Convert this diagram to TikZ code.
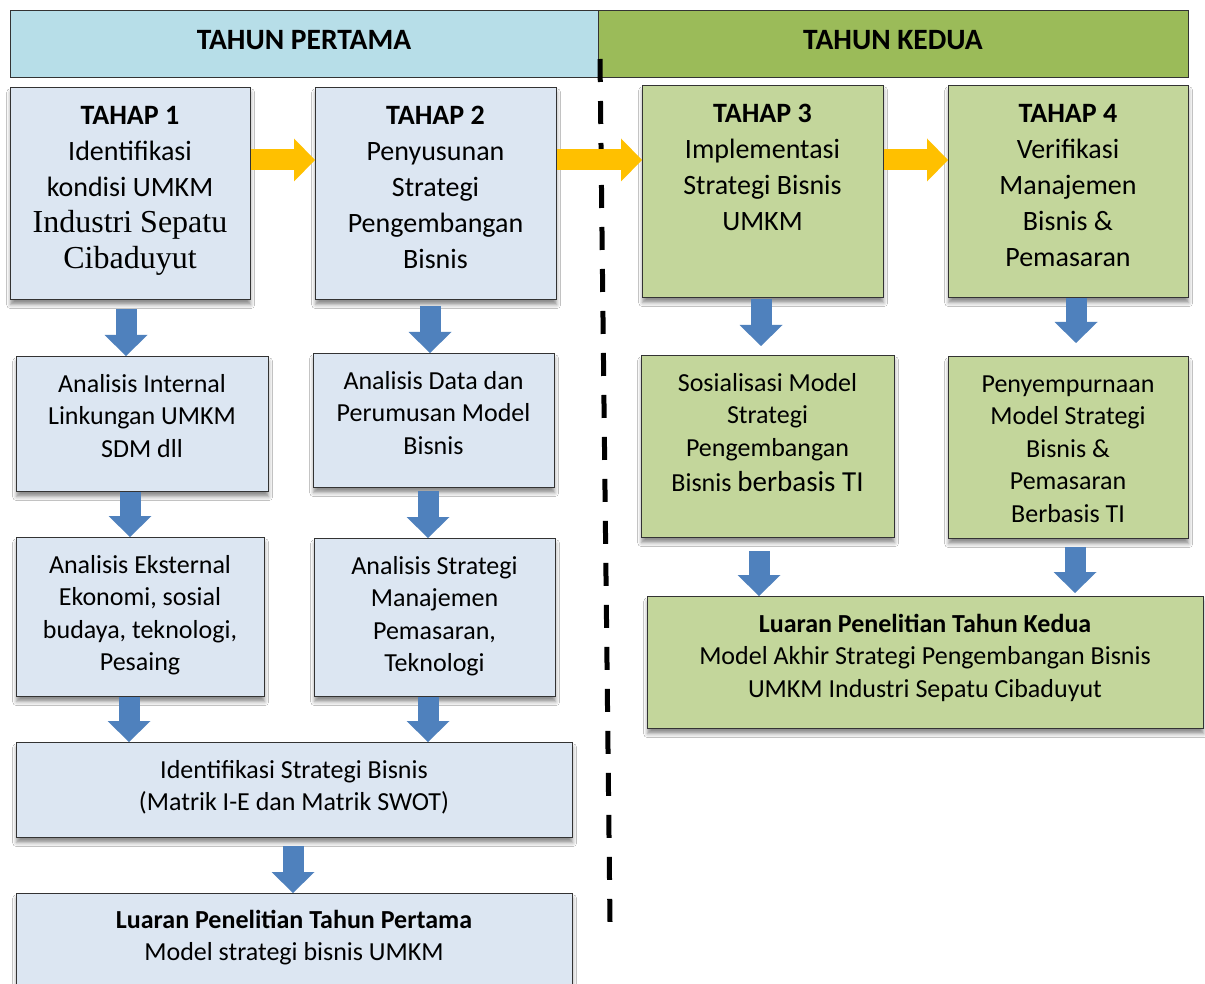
\documentclass[tikz,border=0pt]{standalone}
\usepackage{fontspec}
\setmainfont{Carlito}
\newfontfamily\tnr{Liberation Serif}
\usetikzlibrary{arrows.meta,shadows.blur}
\definecolor{hdrblue}{HTML}{B7DEE8}
\definecolor{hdrgreen}{HTML}{9BBB59}
\definecolor{boxblue}{HTML}{DCE6F2}
\definecolor{boxgreen}{HTML}{C3D69B}
\definecolor{orangec}{HTML}{FFC000}
\definecolor{arrowblue}{HTML}{4F81BD}
\begin{document}
\begin{tikzpicture}[x=1pt,y=-1pt,
  box/.style={draw=black!80, line width=1.3pt, rectangle, inner sep=0pt, anchor=north west,
    blur shadow={shadow xshift=0pt, shadow yshift=-5pt, shadow blur radius=4pt, shadow opacity=45}},
  bbox/.style={box, fill=boxblue},
  gbox/.style={box, fill=boxgreen},
  hdr/.style={draw=black!80, line width=1.3pt, rectangle, inner sep=0pt, anchor=north west},
  txt/.style={inner sep=0pt, align=center, anchor=north, font=\fontsize{26}{32.5}\selectfont},
  ttxt/.style={txt, font=\fontsize{28}{36}\selectfont},
  htxt/.style={inner sep=0pt, anchor=base, font=\fontsize{29.5}{34}\selectfont\bfseries},
  barrow/.style={arrowblue, line width=21pt, -{Triangle[length=21pt,width=43pt,line width=0pt]}},
  oarrow/.style={orangec, line width=21pt, -{Triangle[length=21pt,width=43pt,line width=0pt]}},
  dline/.style={black, line width=5pt, dash pattern=on 23pt off 19pt}
]
\clip (0,0) rectangle (1205,984);
\fill[white] (0,0) rectangle (1205,984);

% headers
\node[hdr, fill=hdrblue, minimum width=588pt, minimum height=67pt] (h1) at (10,10) {};
\node[hdr, fill=hdrgreen, minimum width=590pt, minimum height=67pt] (h2) at (598,10) {};
\node[htxt] (h1t) at (304,50) {TAHUN PERTAMA};
\node[htxt] (h2t) at (893,50) {TAHUN KEDUA};

% dashed divider
\coordinate (dtop) at (600,59);
\coordinate (dbot) at (610,922);
\draw[dline] (dtop) -- (dbot);

% boxes
\node[bbox, minimum width=240pt, minimum height=212pt] (t1) at (10,87) {};
\node[bbox, minimum width=241pt, minimum height=212pt] (t2) at (315,87) {};
\node[gbox, minimum width=241pt, minimum height=212pt] (t3) at (642,85) {};
\node[gbox, minimum width=240pt, minimum height=212pt] (t4) at (948,85) {};
\node[bbox, minimum width=252pt, minimum height=135pt] (a1) at (16,356) {};
\node[bbox, minimum width=241pt, minimum height=134pt] (a2) at (313,353) {};
\node[bbox, minimum width=248pt, minimum height=159pt] (b1) at (16,537) {};
\node[bbox, minimum width=241pt, minimum height=158pt] (b2) at (314,538) {};
\node[bbox, minimum width=556pt, minimum height=95pt] (c) at (16,742) {};
\node[bbox, minimum width=556pt, minimum height=115pt] (d) at (16,893) {};
\node[gbox, minimum width=253pt, minimum height=182pt] (s3) at (641,355) {};
\node[gbox, minimum width=240pt, minimum height=182pt] (s4) at (948,356) {};
\node[gbox, minimum width=556pt, minimum height=132pt] (e) at (647,596) {};

% texts
\node[ttxt] (t1t) at (130,98.8) {\strut\textbf{TAHAP 1}\\Identifikasi\\kondisi UMKM\\{\tnr\fontsize{32}{36}\selectfont Industri Sepatu}\\{\tnr\fontsize{32}{36}\selectfont Cibaduyut}};
\node[ttxt] (t2t) at (435.5,98.8) {\strut\textbf{TAHAP 2}\\Penyusunan\\Strategi\\Pengembangan\\Bisnis};
\node[ttxt] (t3t) at (762.5,96.8) {\strut\textbf{TAHAP 3}\\Implementasi\\Strategi Bisnis\\UMKM};
\node[ttxt] (t4t) at (1068,96.8) {\strut\textbf{TAHAP 4}\\Verifikasi\\Manajemen\\Bisnis \&\\Pemasaran};
\node[txt] (a1t) at (142,369.25) {\strut Analisis Internal\\Linkungan UMKM\\SDM dll};
\node[txt] (a2t) at (433.5,366.25) {\strut Analisis Data dan\\Perumusan Model\\Bisnis};
\node[txt] (b1t) at (140,550.25) {\strut Analisis Eksternal\\Ekonomi, sosial\\budaya, teknologi,\\Pesaing};
\node[txt] (b2t) at (434.5,551.25) {\strut Analisis Strategi\\Manajemen\\Pemasaran,\\Teknologi};
\node[txt] (ct) at (294,755.25) {\strut Identifikasi Strategi Bisnis\\(Matrik I-E dan Matrik SWOT)};
\node[txt] (dt) at (294,905.25) {\strut\textbf{Luaran Penelitian Tahun Pertama}\\Model strategi bisnis UMKM};
\node[txt] (s3t) at (767.5,368.25) {\strut Sosialisasi Model\\Strategi\\Pengembangan\\[3pt]Bisnis {\fontsize{29}{32.5}\selectfont berbasis TI}};
\node[txt] (s4t) at (1068,369.25) {\strut Penyempurnaan\\Model Strategi\\Bisnis \&\\Pemasaran\\Berbasis TI};
\node[txt] (et) at (925,609.25) {\strut\textbf{Luaran Penelitian Tahun Kedua}\\Model Akhir Strategi Pengembangan Bisnis\\UMKM Industri Sepatu Cibaduyut};

% orange arrows
\draw[oarrow] (t1.east |- 0,160) -- (t2.west |- 0,160);
\draw[oarrow] (t2.east |- 0,160) -- (t3.west |- 0,160);
\draw[oarrow] (t3.east |- 0,160) -- (t4.west |- 0,160);

% blue arrows
\draw[barrow, shorten <=9pt] (t1.south -| 126,0) -- (a1.north -| 126,0);
\draw[barrow, shorten <=6pt] (t2.south -| 430,0) -- (a2.north -| 430,0);
\draw[barrow] (a1.south -| 130,0) -- (b1.north -| 130,0);
\draw[barrow, shorten <=3pt] (a2.south -| 428,0) -- (b2.north -| 428,0);
\draw[barrow] (b1.south -| 129,0) -- (c.north -| 129,0);
\draw[barrow] (b2.south -| 428,0) -- (c.north -| 428,0);
\draw[barrow, shorten <=8pt] (c.south -| 293,0) -- (d.north -| 293,0);
\draw[barrow, shorten <=1pt, shorten >=9pt] (t3.south -| 761,0) -- (s3.north -| 761,0);
\draw[barrow, shorten >=13pt] (t4.south -| 1076,0) -- (s4.north -| 1076,0);
\draw[barrow, shorten <=13pt] (s3.south -| 759,0) -- (e.north -| 759,0);
\draw[barrow, shorten <=8pt, shorten >=3pt] (s4.south -| 1075,0) -- (e.north -| 1075,0);
\end{tikzpicture}
\end{document}
